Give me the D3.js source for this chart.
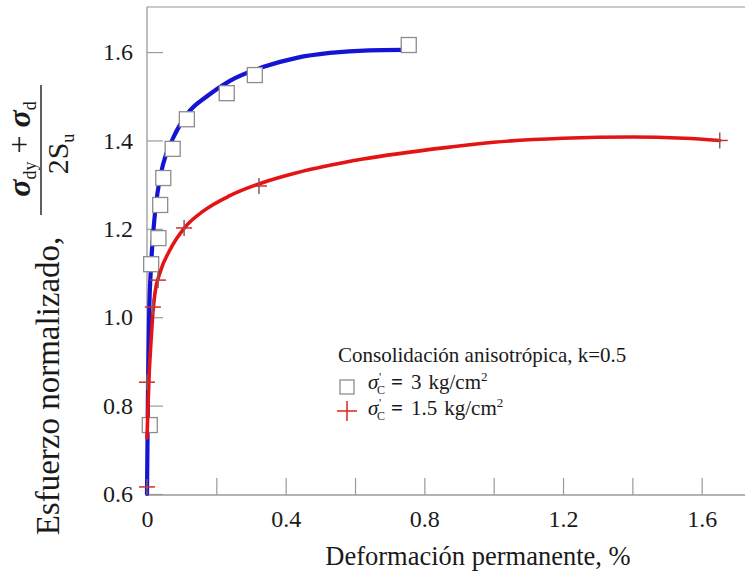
<!DOCTYPE html>
<html>
<head>
<meta charset="utf-8">
<script src="https://cdn.jsdelivr.net/npm/d3@7"></script>
<style>
  html, body { margin: 0; padding: 0; background: #fff; }
  svg { display: block; }
  svg text { font-family: "Liberation Serif", "Times New Roman", Times, "DejaVu Serif", serif; }
</style>
</head>
<body>
<svg id="chart" width="745" height="573"></svg>
<script>
// Measured points, sigma'c = 3 kg/cm2 (deformation %, normalized stress)
const sq3X = [0.008, 0.012, 0.033, 0.038, 0.047, 0.074, 0.115, 0.230, 0.311, 0.755];
const sq3Y = [0.756, 1.120, 1.179, 1.254, 1.315, 1.381, 1.448, 1.507, 1.548, 1.616];
// Fitted curve, sigma'c = 3 kg/cm2
const fit3X = [0.000, 0.003, 0.006, 0.012, 0.020, 0.030, 0.046, 0.075, 0.118, 0.173, 0.239, 0.334, 0.432, 0.527, 0.640, 0.738];
const fit3Y = [0.600, 0.850, 1.000, 1.120, 1.210, 1.280, 1.345, 1.405, 1.462, 1.500, 1.535, 1.566, 1.587, 1.598, 1.604, 1.605];
// Measured points, sigma'c = 1.5 kg/cm2
const pl15X = [0.000, 0.000, 0.017, 0.032, 0.107, 0.323, 1.652];
const pl15Y = [0.616, 0.853, 1.023, 1.084, 1.202, 1.297, 1.400];
// Fitted curve, sigma'c = 1.5 kg/cm2
const fit15X = [0.000, 0.005, 0.012, 0.017, 0.023, 0.037, 0.066, 0.110, 0.162, 0.239, 0.335, 0.432, 0.623, 0.873, 1.000, 1.200, 1.400, 1.550, 1.652];
const fit15Y = [0.727, 0.850, 0.950, 1.010, 1.055, 1.100, 1.152, 1.204, 1.240, 1.275, 1.305, 1.327, 1.358, 1.385, 1.396, 1.405, 1.408, 1.405, 1.400];
// Axis ticks
const xTicks = [0, 0.2, 0.4, 0.6, 0.8, 1.0, 1.2, 1.4, 1.6];
const xTickLabels = ["0", "", "0.4", "", "0.8", "", "1.2", "", "1.6"];
const yTicks = [0.6, 0.8, 1.0, 1.2, 1.4, 1.6];
const yTickLabels = ["0.6", "0.8", "1.0", "1.2", "1.4", "1.6"];
// Legend entries
const legendValues = ["3", "1.5"];

const serif = '"Liberation Serif", "Times New Roman", Times, "DejaVu Serif", serif';
const svg = d3.select("#chart");
const mLeft = 147, mRight = 744, mTop = 7, mBottom = 494;
const x = d3.scaleLinear().domain([0, 1.722]).range([mLeft, mRight]);
const y = d3.scaleLinear().domain([0.6, 1.702]).range([mBottom, mTop]);

const axisColor = "#9a9a9a";
const textColor = "#1a1a1a";

// Frame: top edge line
svg.append("line").attr("x1", mLeft).attr("x2", mRight + 1).attr("y1", mTop).attr("y2", mTop)
  .attr("stroke", "#b8b8b8").attr("stroke-width", 1.5);

// X axis (ticks pointing inward)
const xAxis = d3.axisBottom(x).tickValues(xTicks)
  .tickSize(-17).tickPadding(15)
  .tickFormat((d, i) => xTickLabels[i]);
const gx = svg.append("g").attr("transform", `translate(0,${mBottom + 1})`).call(xAxis)
  .attr("font-family", serif).attr("font-size", 24);
gx.select(".domain").attr("stroke", axisColor).attr("stroke-width", 1.3)
  .attr("d", `M${mLeft},0H${mRight + 1}`);
gx.selectAll(".tick line").attr("stroke", axisColor).attr("stroke-width", 1.2);
gx.selectAll(".tick text").attr("fill", textColor);

// Y axis (ticks pointing inward)
const yAxis = d3.axisLeft(y).tickValues(yTicks)
  .tickSize(-16).tickPadding(14)
  .tickFormat((d, i) => yTickLabels[i]);
const gy = svg.append("g").attr("transform", `translate(${mLeft},0)`).call(yAxis)
  .attr("font-family", serif).attr("font-size", 24);
gy.select(".domain").attr("stroke", axisColor).attr("stroke-width", 1.3)
  .attr("d", `M0,${mTop}V${mBottom + 1}`);
gy.selectAll(".tick line").attr("stroke", axisColor).attr("stroke-width", 1.2);
gy.selectAll(".tick text").attr("fill", textColor);

// Curves
const line = d3.line().x(d => x(d[0])).y(d => y(d[1])).curve(d3.curveMonotoneX);

svg.append("path").datum(fit3X.map((v, i) => [v, fit3Y[i]]))
  .attr("d", line).attr("fill", "none").attr("stroke", "#1414d4").attr("stroke-width", 4.2)
  .attr("stroke-linecap", "round");

// Squares
const sqSize = 15;
svg.append("g").selectAll("rect").data(sq3X.map((v, i) => [v, sq3Y[i]])).join("rect")
  .attr("x", d => x(d[0]) - sqSize / 2).attr("y", d => y(d[1]) - sqSize / 2)
  .attr("width", sqSize).attr("height", sqSize)
  .attr("fill", "#fff").attr("stroke", "#8c8c8c").attr("stroke-width", 1.3);

svg.append("path").datum(fit15X.map((v, i) => [v, fit15Y[i]]))
  .attr("d", line).attr("fill", "none").attr("stroke", "#e41414").attr("stroke-width", 3.6)
  .attr("stroke-linecap", "round");

// Plus markers
const plus = 8;
const pg = svg.append("g").selectAll("g").data(pl15X.map((v, i) => [v, pl15Y[i]])).join("g")
  .attr("transform", d => `translate(${x(d[0])},${y(d[1])})`);
pg.append("line").attr("x1", -plus).attr("x2", plus).attr("y1", 0).attr("y2", 0)
  .attr("stroke", "#d42a2a").attr("stroke-width", 1.5);
pg.append("line").attr("x1", 0).attr("x2", 0).attr("y1", -plus).attr("y2", plus)
  .attr("stroke", "#8a5a5a").attr("stroke-width", 1.5);

// Legend
const lg = svg.append("g").attr("fill", textColor).attr("font-family", serif).attr("font-size", 21);
lg.append("text").attr("x", 338).attr("y", 362).text("Consolidación anisotrópica, k=0.5");
lg.append("rect").attr("x", 340).attr("y", 380).attr("width", 14).attr("height", 14)
  .attr("fill", "#fff").attr("stroke", "#8c8c8c").attr("stroke-width", 1.3);
lg.append("line").attr("x1", 337).attr("x2", 357).attr("y1", 411).attr("y2", 411)
  .attr("stroke", "#e02020").attr("stroke-width", 1.5);
lg.append("line").attr("x1", 347).attr("x2", 347).attr("y1", 401).attr("y2", 421)
  .attr("stroke", "#e02020").attr("stroke-width", 1.5);

function legendEntry(yBase, value) {
  lg.append("text").attr("x", 368).attr("y", yBase).attr("font-style", "italic").text("σ");
  lg.append("text").attr("x", 379).attr("y", yBase - 8).attr("font-size", 12).text("'");
  lg.append("text").attr("x", 377).attr("y", yBase + 5).attr("font-size", 12).text("C");
  lg.append("text").attr("x", 391).attr("y", yBase).attr("font-weight", "bold").text("=");
  const t = lg.append("text").attr("x", 411).attr("y", yBase);
  t.append("tspan").text(value);
  t.append("tspan").attr("dx", 7).text("kg/cm");
  t.append("tspan").attr("dy", -8).attr("font-size", 13).text("2");
}
legendEntry(389, legendValues[0]);
legendEntry(415, legendValues[1]);

// X axis title
svg.append("text").attr("x", 478).attr("y", 565).attr("text-anchor", "middle")
  .attr("fill", textColor).attr("font-family", serif).attr("font-size", 26.5)
  .text("Deformación permanente, %");

// Y axis title with fraction
const yt = svg.append("g").attr("fill", textColor).attr("font-family", serif);
yt.append("text").attr("transform", "translate(59,386) rotate(-90)").attr("text-anchor", "middle")
  .attr("font-size", 33).text("Esfuerzo normalizado,");
// numerator
const num = yt.append("text").attr("transform", "translate(30,149) rotate(-90)").attr("text-anchor", "middle")
  .attr("font-size", 32);
num.append("tspan").attr("font-style", "italic").attr("font-weight", "bold").text("σ");
num.append("tspan").attr("dy", 6).attr("font-size", 18).text("dy");
num.append("tspan").attr("dy", -6).text(" + ");
num.append("tspan").attr("font-style", "italic").attr("font-weight", "bold").text("σ");
num.append("tspan").attr("dy", 6).attr("font-size", 18).text("d");
// fraction bar
yt.append("line").attr("x1", 41).attr("x2", 41).attr("y1", 85).attr("y2", 215)
  .attr("stroke", textColor).attr("stroke-width", 1.4);
// denominator
const den = yt.append("text").attr("transform", "translate(68,154) rotate(-90)").attr("text-anchor", "middle")
  .attr("font-size", 30);
den.append("tspan").text("2S");
den.append("tspan").attr("dy", 6).attr("font-size", 18).text("u");
</script>
</body>
</html>
